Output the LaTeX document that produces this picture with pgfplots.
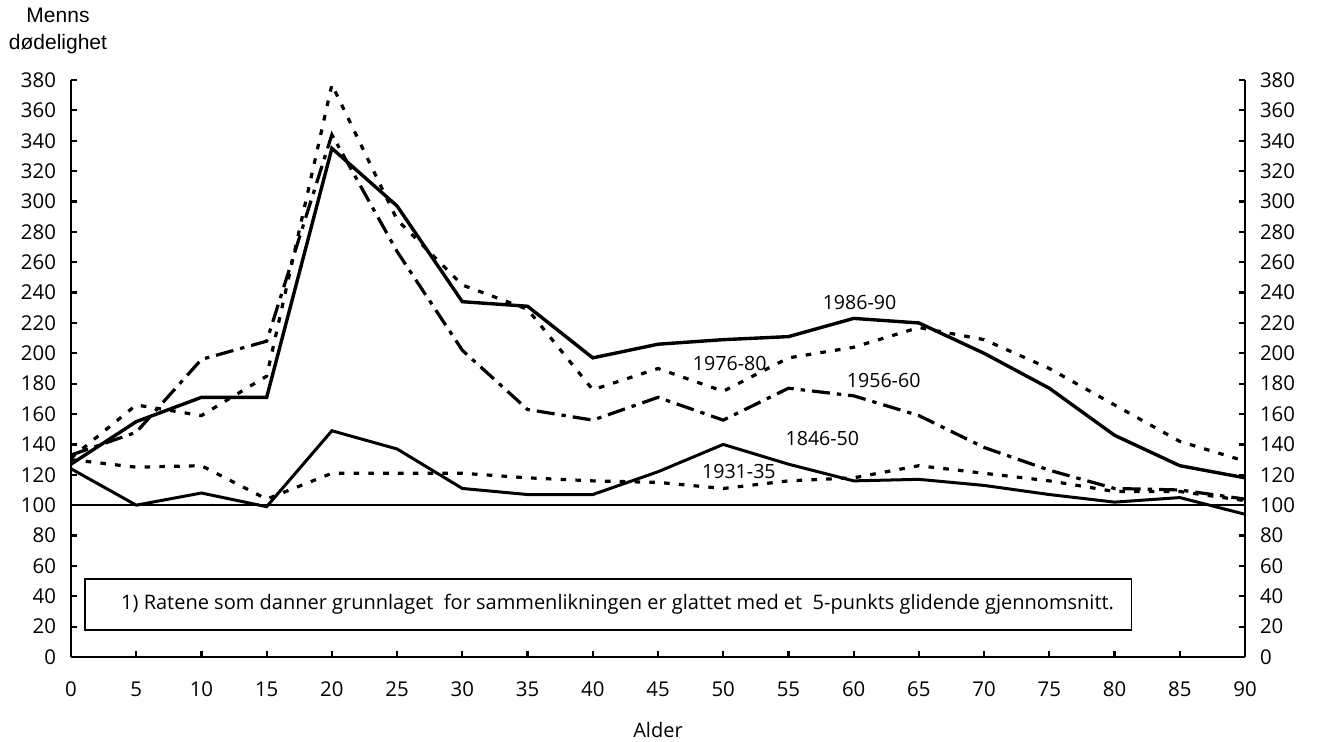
\documentclass[border=0pt]{standalone}
\usepackage{fontspec}
\setmainfont{Open Sans}
\newfontfamily\arialfont{Liberation Sans}
\usepackage{pgfplots}
\pgfplotsset{compat=1.18}

% Menns dødelighet etter alder, sammenlikning mellom perioder
\pgfplotstableread{
alder  p1846  p1931  p1956  p1976  p1986
0      124    130    133    131    127
5      100    125    148    166    155
10     108    126    196    159    171
15     99     104    208    185    171
20     149    121    344    377    335
25     137    121    267    288    297
30     111    121    202    245    234
35     107    118    163    229    231
40     107    116    156    176    197
45     122    115    171    190    206
50     140    111    156    175    209
55     127    116    177    197    211
60     116    118    172    204    223
65     117    126    159    217    220
70     113    121    138    209    200
75     107    116    123    190    177
80     102    109    111    166    146
85     105    109    110    142    126
90     94     103    104    129    118
}\dodelighet

\tikzset{
  kortstrek/.style={line width=1.6pt, dash pattern=on 2.8pt off 4.6pt},
  strekprikk/.style={line width=1.6pt, dash pattern=on 9pt off 3.5pt on 2.2pt off 3.5pt},
  heltrukket/.style={line width=1.7pt},
}

\begin{document}
\begin{tikzpicture}
\useasboundingbox (-35.5pt,-42pt) rectangle (625.5pt,328.5pt);

\pgfplotsset{
  felles/.style={
    width=587pt, height=288.5pt, scale only axis,
    xmin=0, xmax=90, ymin=0, ymax=380,
    ytick={0,20,...,380},
    tick align=inside,
    major tick length=3pt,
    tick style={black, line width=1.1pt},
    axis line style={line width=1.3pt},
    ticklabel style={font=\fontsize{10.2}{11}\selectfont},
    /pgf/number format/assume math mode=true,
  },
}

\begin{axis}[
  felles,
  axis x line*=bottom, axis y line*=left,
  xtick={0,5,...,90},
  xticklabel style={yshift=-9pt},
  yticklabel style={xshift=-4pt},
  xlabel={Alder},
  xlabel style={font=\fontsize{10}{11}\selectfont, at={(axis description cs:0.5,0)}, anchor=center, yshift=-36.5pt},
]
\addplot[line width=1.2pt] coordinates {(0,100) (90,100)};
\addplot[heltrukket] table[x=alder, y=p1986] {\dodelighet};
\addplot[kortstrek] table[x=alder, y=p1976] {\dodelighet};
\addplot[strekprikk] table[x=alder, y=p1956] {\dodelighet};
\addplot[kortstrek] table[x=alder, y=p1931] {\dodelighet};
\addplot[line width=1.5pt] table[x=alder, y=p1846] {\dodelighet};

\begin{scope}[font=\fontsize{9.8}{11}\selectfont]
\node at (axis cs:60.45,233.8) {1986-90};
\node at (axis cs:50.5,193.3) {1976-80};
\node at (axis cs:62.3,182.4) {1956-60};
\node at (axis cs:57.6,143.9) {1846-50};
\node at (axis cs:51.2,122.2) {1931-35};
\end{scope}

\draw[line width=0.8pt, fill=white] (axis cs:1.07,17.8) rectangle (axis cs:81.3,51.4);
\node[font=\fontsize{10}{11}\selectfont] at (axis cs:41.9,34.6)
  {1) Ratene som danner grunnlaget\ \ for sammenlikningen er glattet med et\ \ 5-punkts glidende gjennomsnitt.};
\end{axis}

\begin{axis}[
  felles,
  axis x line=none, axis y line*=right,
  yticklabel style={xshift=4pt},
]
\addplot[draw=none] coordinates {(0,0) (90,380)};
\end{axis}

\node[font=\arialfont\fontsize{10.5}{13.5}\selectfont, align=center] at (-6.5pt,313pt) {Menns\\dødelighet};
\end{tikzpicture}
\end{document}
